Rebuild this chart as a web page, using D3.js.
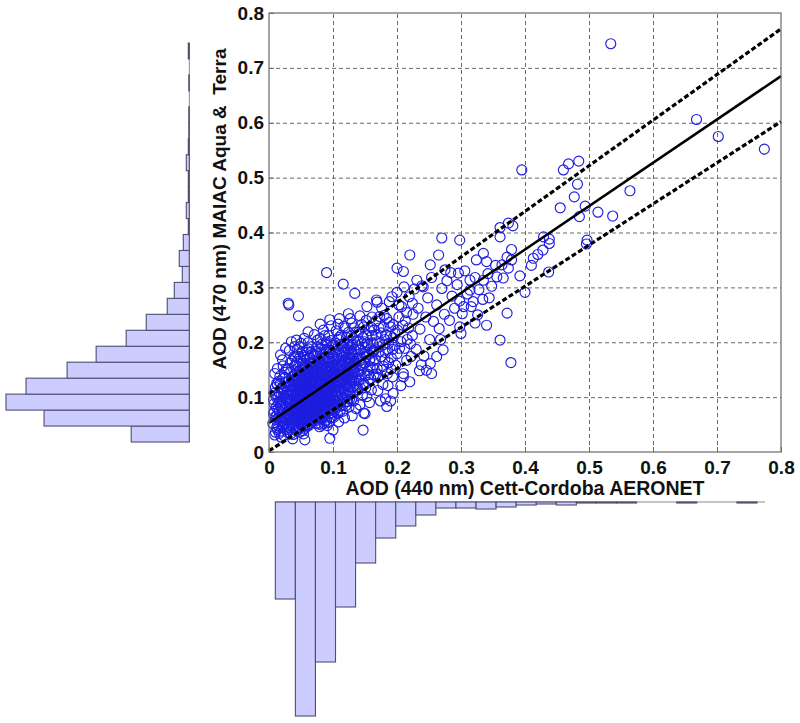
<!DOCTYPE html>
<html>
<head>
<meta charset="utf-8">
<script src="https://cdn.jsdelivr.net/npm/d3@7"></script>
<style>
  body { margin: 0; background: #fff; }
  text { font-family: "Liberation Sans", Arial, sans-serif; font-weight: bold; }
</style>
</head>
<body>
<div id="chart"></div>
<script>
// tick values shared by both axes
const tickValues = [0, 0.1, 0.2, 0.3, 0.4, 0.5, 0.6, 0.7, 0.8];
const tickLabels = ["0", "0.1", "0.2", "0.3", "0.4", "0.5", "0.6", "0.7", "0.8"];

// [AERONET AOD 440, MAIAC AOD 470] pairs
const points = [
  // x 0.005 - 0.04
  [0.012,0.045],[0.015,0.062],[0.018,0.038],[0.021,0.071],[0.024,0.052],[0.027,0.088],[0.030,0.041],[0.033,0.066],[0.036,0.095],[0.039,0.058],
  [0.011,0.082],[0.014,0.101],[0.017,0.057],[0.020,0.094],[0.023,0.030],[0.026,0.063],[0.029,0.112],[0.032,0.079],[0.035,0.048],[0.038,0.121],
  [0.013,0.123],[0.016,0.074],[0.019,0.115],[0.022,0.049],[0.025,0.136],[0.028,0.072],[0.031,0.105],[0.034,0.033],[0.037,0.083],[0.040,0.140],
  [0.010,0.036],[0.019,0.027],[0.024,0.098],[0.027,0.150],[0.030,0.128],[0.033,0.162],[0.036,0.058],[0.039,0.174],[0.015,0.090],[0.021,0.118],
  [0.026,0.041],[0.031,0.087],[0.035,0.112],[0.038,0.069],[0.012,0.066],[0.017,0.138],[0.022,0.157],[0.028,0.059],[0.034,0.146],[0.037,0.024],
  [0.032,0.185],[0.018,0.084],[0.023,0.076],[0.029,0.093],[0.040,0.100],
  [0.006,0.052],[0.008,0.088],[0.010,0.118],[0.013,0.041],[0.016,0.107],[0.019,0.063],[0.022,0.134],[0.025,0.083],[0.028,0.047],[0.031,0.121],
  [0.034,0.092],[0.037,0.137],[0.007,0.095],[0.011,0.059],[0.014,0.078],[0.018,0.125],[0.021,0.046],[0.024,0.114],[0.027,0.068],[0.030,0.152],
  [0.033,0.054],[0.036,0.078],[0.039,0.087],[0.009,0.143],[0.012,0.099],[0.016,0.034],[0.020,0.081],[0.023,0.103],[0.026,0.127],[0.029,0.036],
  [0.032,0.097],[0.035,0.131],[0.038,0.045],[0.008,0.074],[0.013,0.152],[0.017,0.092],[0.021,0.168],[0.025,0.058],[0.028,0.109],[0.032,0.044],
  [0.036,0.166],[0.039,0.108],[0.014,0.048],[0.019,0.106],[0.023,0.062],[0.027,0.119],[0.031,0.071],[0.034,0.119],[0.038,0.032],[0.011,0.104],
  [0.015,0.129],[0.020,0.055],[0.024,0.145],[0.029,0.082],[0.033,0.107],[0.037,0.061],[0.040,0.076],[0.018,0.177],[0.026,0.189],[0.035,0.201],
  // x 0.04 - 0.07
  [0.041,0.052],[0.044,0.078],[0.047,0.061],[0.050,0.095],[0.053,0.047],[0.056,0.083],[0.059,0.110],[0.062,0.069],[0.065,0.124],[0.068,0.088],
  [0.042,0.104],[0.045,0.128],[0.048,0.085],[0.051,0.071],[0.054,0.117],[0.057,0.054],[0.060,0.092],[0.063,0.137],[0.066,0.076],[0.069,0.101],
  [0.043,0.067],[0.046,0.044],[0.049,0.113],[0.052,0.134],[0.055,0.072],[0.058,0.099],[0.061,0.050],[0.064,0.087],[0.067,0.145],[0.070,0.064],
  [0.041,0.089],[0.044,0.145],[0.047,0.098],[0.050,0.058],[0.053,0.088],[0.056,0.126],[0.059,0.077],[0.062,0.107],[0.065,0.059],[0.068,0.118],
  [0.042,0.158],[0.045,0.072],[0.048,0.036],[0.051,0.106],[0.054,0.149],[0.057,0.066],[0.060,0.129],[0.063,0.083],[0.066,0.162],[0.069,0.081],
  [0.043,0.120],[0.046,0.091],[0.049,0.150],[0.052,0.082],[0.055,0.103],[0.058,0.140],[0.061,0.115],[0.064,0.071],[0.067,0.097],[0.070,0.132],
  [0.041,0.173],[0.044,0.059],[0.047,0.122],[0.050,0.168],[0.053,0.064],[0.056,0.097],[0.059,0.157],[0.062,0.048],[0.065,0.109],[0.068,0.178],
  [0.042,0.075],[0.045,0.110],[0.048,0.069],[0.051,0.121],[0.054,0.033],[0.057,0.112],[0.060,0.068],[0.063,0.121],[0.066,0.138],[0.069,0.056],
  [0.043,0.038],[0.046,0.137],[0.049,0.079],[0.052,0.096],[0.055,0.176],[0.058,0.079],[0.061,0.094],[0.064,0.150],[0.067,0.067],[0.070,0.104],
  [0.041,0.128],[0.044,0.187],[0.047,0.053],[0.050,0.112],[0.053,0.128],[0.056,0.043],[0.059,0.135],[0.062,0.188],[0.065,0.085],[0.068,0.148],
  [0.042,0.062],[0.045,0.097],[0.048,0.192],[0.051,0.087],[0.054,0.091],[0.057,0.161],[0.060,0.105],[0.063,0.061],[0.066,0.117],[0.069,0.092],
  [0.043,0.095],[0.046,0.066],[0.049,0.102],[0.052,0.057],[0.055,0.126],[0.058,0.062],[0.061,0.199],[0.064,0.112],[0.067,0.128],[0.070,0.165],
  [0.040,0.118],[0.043,0.084],[0.046,0.109],[0.049,0.063],[0.052,0.115],[0.055,0.086],[0.058,0.121],[0.061,0.079],[0.064,0.097],[0.067,0.111],[0.070,0.086],
  [0.041,0.141],[0.044,0.101],[0.047,0.083],[0.050,0.131],[0.053,0.099],[0.056,0.069],[0.059,0.092],[0.062,0.128],[0.065,0.141],[0.068,0.073],[0.071,0.119],
  [0.042,0.091],[0.045,0.058],[0.048,0.117],[0.051,0.053],[0.054,0.076],[0.057,0.133],[0.060,0.083],[0.063,0.104],[0.066,0.089],[0.069,0.138],[0.071,0.097],
  [0.040,0.067],[0.043,0.136],[0.046,0.079],[0.049,0.124],[0.052,0.071],[0.055,0.138],[0.058,0.088],[0.061,0.142],[0.064,0.061],[0.067,0.154],[0.070,0.112],
  [0.041,0.112],[0.044,0.069],[0.047,0.144],[0.050,0.087],[0.053,0.109],[0.056,0.154],[0.059,0.063],[0.062,0.095],[0.065,0.072],[0.068,0.128],[0.071,0.143],
  [0.042,0.132],[0.045,0.087],[0.048,0.054],[0.051,0.143],[0.054,0.061],[0.057,0.101],[0.060,0.149],[0.063,0.072],[0.066,0.102],[0.069,0.066],[0.070,0.153],
  [0.043,0.057],[0.046,0.118],[0.049,0.094],[0.052,0.162],[0.055,0.057],[0.058,0.113],[0.061,0.065],[0.064,0.128],[0.067,0.082],[0.069,0.112],[0.065,0.181],
  [0.040,0.157],[0.044,0.165],[0.048,0.172],[0.052,0.183],[0.056,0.173],[0.060,0.170],[0.064,0.172],[0.068,0.163],[0.042,0.048],[0.047,0.042],[0.053,0.039],
  [0.058,0.046],[0.063,0.052],[0.067,0.058],[0.045,0.179],[0.050,0.198],[0.055,0.207],[0.059,0.185],[0.063,0.163],[0.067,0.192],[0.071,0.177],
  [0.041,0.101],[0.045,0.123],[0.049,0.072],[0.053,0.152],[0.057,0.081],[0.061,0.131],[0.066,0.121],[0.070,0.075],[0.054,0.101],[0.060,0.117],
  // x 0.07 - 0.10
  [0.073,0.079],[0.076,0.108],[0.079,0.062],[0.082,0.131],[0.085,0.094],[0.088,0.152],[0.091,0.073],[0.094,0.117],[0.097,0.140],[0.100,0.099],
  [0.074,0.125],[0.077,0.088],[0.080,0.146],[0.083,0.069],[0.086,0.119],[0.089,0.097],[0.092,0.163],[0.095,0.084],[0.098,0.121],[0.101,0.174],
  [0.075,0.058],[0.078,0.139],[0.081,0.101],[0.084,0.170],[0.087,0.078],[0.090,0.128],[0.093,0.105],[0.096,0.062],[0.099,0.155],[0.102,0.113],
  [0.073,0.148],[0.076,0.068],[0.079,0.116],[0.082,0.092],[0.085,0.144],[0.088,0.056],[0.091,0.137],[0.094,0.181],[0.097,0.092],[0.100,0.132],
  [0.074,0.094],[0.077,0.163],[0.080,0.083],[0.083,0.112],[0.086,0.187],[0.089,0.116],[0.092,0.087],[0.095,0.129],[0.098,0.071],[0.101,0.146],
  [0.075,0.175],[0.078,0.051],[0.081,0.127],[0.084,0.143],[0.087,0.102],[0.090,0.165],[0.093,0.146],[0.096,0.108],[0.099,0.194],[0.102,0.086],
  [0.073,0.108],[0.076,0.192],[0.079,0.099],[0.082,0.060],[0.085,0.124],[0.088,0.088],[0.091,0.201],[0.094,0.070],[0.097,0.119],[0.100,0.158],
  [0.074,0.067],[0.077,0.125],[0.080,0.207],[0.083,0.156],[0.086,0.052],[0.089,0.139],[0.092,0.115],[0.095,0.170],[0.098,0.137],[0.101,0.063],
  [0.075,0.136],[0.078,0.084],[0.081,0.162],[0.084,0.118],[0.087,0.212],[0.090,0.075],[0.093,0.125],[0.096,0.150],[0.099,0.105],[0.102,0.128],
  [0.079,0.046],[0.085,0.222],[0.091,0.048],[0.097,0.230],[0.088,0.178],
  [0.072,0.092],[0.075,0.117],[0.078,0.074],[0.081,0.114],[0.084,0.084],[0.087,0.134],[0.090,0.108],[0.093,0.091],[0.096,0.127],[0.099,0.117],
  [0.073,0.136],[0.076,0.082],[0.079,0.131],[0.082,0.105],[0.085,0.072],[0.088,0.119],[0.091,0.154],[0.094,0.131],[0.097,0.103],[0.100,0.143],
  [0.074,0.103],[0.077,0.142],[0.080,0.095],[0.083,0.127],[0.086,0.137],[0.089,0.082],[0.092,0.128],[0.095,0.148],[0.098,0.088],[0.101,0.124],
  [0.072,0.121],[0.075,0.087],[0.078,0.122],[0.081,0.076],[0.084,0.131],[0.087,0.113],[0.090,0.141],[0.093,0.078],[0.096,0.136],[0.099,0.081],
  [0.073,0.071],[0.076,0.152],[0.079,0.089],[0.082,0.146],[0.085,0.108],[0.088,0.141],[0.091,0.097],[0.094,0.157],[0.097,0.077],[0.100,0.112],
  [0.074,0.158],[0.077,0.101],[0.080,0.120],[0.083,0.088],[0.086,0.158],[0.089,0.126],[0.092,0.101],[0.095,0.114],[0.098,0.161],[0.101,0.096],
  [0.072,0.165],[0.075,0.145],[0.078,0.167],[0.081,0.181],[0.084,0.158],[0.087,0.173],[0.090,0.185],[0.093,0.172],[0.096,0.183],[0.099,0.171],
  [0.073,0.184],[0.076,0.204],[0.079,0.188],[0.082,0.196],[0.085,0.166],[0.089,0.199],[0.093,0.212],[0.097,0.203],[0.101,0.194],[0.074,0.052],
  [0.078,0.063],[0.082,0.049],[0.086,0.066],[0.090,0.058],[0.094,0.054],[0.098,0.063],[0.102,0.074],[0.071,0.214],[0.080,0.233],[0.095,0.241],
  [0.076,0.129],[0.080,0.110],[0.084,0.097],[0.088,0.103],[0.092,0.141],[0.096,0.096],[0.100,0.085],[0.083,0.139],[0.091,0.119],[0.099,0.135],
  // x 0.10 - 0.13
  [0.104,0.121],[0.107,0.153],[0.110,0.095],[0.113,0.176],[0.116,0.132],[0.119,0.108],[0.122,0.163],[0.125,0.141],[0.128,0.191],[0.131,0.118],
  [0.105,0.168],[0.108,0.087],[0.111,0.139],[0.114,0.115],[0.117,0.198],[0.120,0.145],[0.123,0.092],[0.126,0.172],[0.129,0.130],[0.132,0.207],
  [0.106,0.102],[0.109,0.187],[0.112,0.158],[0.115,0.074],[0.118,0.167],[0.121,0.124],[0.124,0.218],[0.127,0.104],[0.130,0.157],[0.133,0.144],
  [0.104,0.141],[0.107,0.070],[0.110,0.209],[0.113,0.128],[0.116,0.099],[0.119,0.184],[0.122,0.138],[0.125,0.082],[0.128,0.149],[0.131,0.178],
  [0.105,0.198],[0.108,0.128],[0.111,0.112],[0.114,0.150],[0.117,0.229],[0.120,0.084],[0.123,0.197],[0.126,0.119],[0.129,0.235],[0.132,0.093],
  [0.106,0.136],[0.109,0.055],[0.112,0.084],[0.115,0.193],[0.118,0.144],[0.121,0.171],[0.124,0.111],[0.127,0.201],[0.130,0.066],[0.133,0.165],
  [0.110,0.243],[0.118,0.062],[0.124,0.252],[0.129,0.096],[0.133,0.226],
  [0.103,0.131],[0.106,0.118],[0.109,0.146],[0.112,0.127],[0.115,0.158],[0.118,0.121],[0.121,0.153],[0.124,0.132],[0.127,0.163],[0.130,0.141],
  [0.104,0.158],[0.107,0.138],[0.110,0.165],[0.113,0.104],[0.116,0.143],[0.119,0.162],[0.122,0.121],[0.125,0.178],[0.128,0.118],[0.131,0.152],
  [0.105,0.107],[0.108,0.161],[0.111,0.127],[0.114,0.181],[0.117,0.112],[0.120,0.131],[0.123,0.172],[0.126,0.151],[0.129,0.182],[0.132,0.129],
  [0.103,0.093],[0.106,0.176],[0.109,0.117],[0.112,0.196],[0.115,0.134],[0.118,0.097],[0.121,0.188],[0.124,0.146],[0.127,0.131],[0.130,0.196],
  [0.104,0.183],[0.107,0.104],[0.110,0.153],[0.113,0.142],[0.116,0.173],[0.119,0.136],[0.122,0.104],[0.125,0.161],[0.128,0.171],[0.131,0.137],
  [0.105,0.221],[0.109,0.205],[0.113,0.213],[0.117,0.181],[0.121,0.209],[0.125,0.196],[0.129,0.212],[0.133,0.187],[0.106,0.081],[0.111,0.074],
  [0.116,0.086],[0.121,0.092],[0.126,0.097],[0.131,0.108],[0.108,0.233],[0.119,0.226],[0.127,0.243],[0.114,0.166],[0.123,0.141],[0.132,0.171],
  // x 0.13 - 0.165
  [0.135,0.152],[0.138,0.118],[0.141,0.188],[0.144,0.140],[0.147,0.209],[0.150,0.162],[0.153,0.101],[0.156,0.178],[0.159,0.134],[0.162,0.198],
  [0.136,0.195],[0.139,0.171],[0.142,0.086],[0.145,0.232],[0.148,0.125],[0.151,0.190],[0.154,0.148],[0.157,0.221],[0.160,0.113],[0.163,0.166],
  [0.137,0.131],[0.140,0.218],[0.143,0.159],[0.146,0.104],[0.149,0.178],[0.152,0.240],[0.155,0.127],[0.158,0.155],[0.161,0.246],[0.164,0.141],
  [0.136,0.079],[0.142,0.248],[0.148,0.071],[0.153,0.265],[0.157,0.090],[0.161,0.183],[0.164,0.222],[0.139,0.143],[0.145,0.197],[0.150,0.139],
  [0.134,0.162],[0.137,0.178],[0.140,0.147],[0.143,0.186],[0.146,0.159],[0.149,0.201],[0.152,0.174],[0.155,0.194],[0.158,0.169],[0.161,0.212],
  [0.135,0.121],[0.138,0.203],[0.141,0.132],[0.144,0.171],[0.147,0.121],[0.150,0.182],[0.153,0.214],[0.156,0.141],[0.159,0.188],[0.162,0.154],
  [0.136,0.218],[0.139,0.113],[0.142,0.166],[0.145,0.151],[0.148,0.228],[0.151,0.117],[0.154,0.199],[0.157,0.167],[0.160,0.227],[0.163,0.183],
  // x 0.165 - 0.26
  [0.166,0.188],[0.169,0.152],[0.172,0.226],[0.175,0.174],[0.178,0.123],[0.181,0.205],[0.184,0.243],[0.187,0.163],[0.190,0.211],[0.193,0.137],
  [0.167,0.239],[0.170,0.112],[0.173,0.198],[0.176,0.262],[0.179,0.156],[0.182,0.097],[0.185,0.187],[0.188,0.274],[0.191,0.172],[0.194,0.232],
  [0.168,0.142],[0.174,0.093],[0.180,0.249],[0.186,0.121],[0.192,0.283],[0.196,0.194],
  [0.166,0.169],[0.169,0.201],[0.172,0.183],[0.175,0.217],[0.178,0.195],[0.181,0.168],[0.184,0.213],[0.187,0.198],[0.190,0.228],[0.193,0.187],
  [0.167,0.214],[0.170,0.136],[0.173,0.247],[0.176,0.149],[0.179,0.228],[0.182,0.181],[0.185,0.143],[0.188,0.236],[0.191,0.151],[0.194,0.208],
  [0.197,0.216],[0.200,0.179],[0.203,0.268],[0.206,0.201],[0.209,0.231],[0.212,0.189],[0.215,0.254],[0.218,0.226],[0.221,0.197],[0.224,0.271],
  [0.198,0.158],[0.201,0.222],[0.204,0.189],[0.207,0.265],[0.210,0.143],[0.213,0.239],[0.216,0.205],[0.219,0.283],[0.222,0.174],[0.225,0.251],
  [0.200,0.291],[0.206,0.121],[0.211,0.301],[0.215,0.167],[0.220,0.128],[0.224,0.212],[0.203,0.246],[0.227,0.297],
  [0.230,0.187],[0.233,0.262],[0.236,0.224],[0.239,0.303],[0.242,0.175],[0.245,0.246],[0.248,0.281],[0.251,0.205],[0.254,0.318],[0.257,0.238],
  [0.235,0.148],[0.252,0.161],
  // x 0.26 - 0.36
  [0.262,0.268],[0.266,0.225],[0.270,0.298],[0.274,0.251],[0.278,0.312],[0.282,0.240],[0.286,0.284],[0.290,0.262],[0.294,0.305],[0.298,0.275],
  [0.302,0.252],[0.306,0.330],[0.310,0.288],[0.316,0.265],[0.322,0.318],[0.328,0.296],[0.334,0.278],[0.342,0.325],[0.348,0.302],[0.354,0.340],
  [0.268,0.205],[0.284,0.327],[0.300,0.216],[0.326,0.250],[0.344,0.281],
  // scattered points and outliers
  [0.534,0.744],[0.668,0.606],[0.702,0.575],[0.774,0.552],[0.395,0.514],[0.460,0.514],[0.468,0.525],[0.484,0.530],[0.482,0.488],[0.477,0.465],
  [0.455,0.445],[0.494,0.448],[0.485,0.429],[0.514,0.437],[0.537,0.430],[0.564,0.476],[0.374,0.417],[0.381,0.412],[0.361,0.409],[0.429,0.392],
  [0.438,0.388],[0.497,0.386],[0.379,0.369],[0.392,0.321],[0.400,0.291],[0.437,0.328],[0.420,0.360],[0.413,0.353],[0.410,0.340],[0.428,0.368],
  [0.438,0.380],[0.496,0.379],[0.372,0.253],[0.361,0.204],[0.378,0.163],[0.366,0.317],[0.372,0.355],[0.270,0.390],[0.361,0.392],[0.090,0.327],
  [0.030,0.271],[0.031,0.268],[0.046,0.248],[0.116,0.306],[0.134,0.289],[0.168,0.277],[0.169,0.273],[0.200,0.335],[0.210,0.329],[0.220,0.359],
  [0.265,0.359],[0.252,0.341],[0.231,0.313],[0.241,0.301],[0.275,0.332],[0.298,0.386],[0.296,0.326],[0.314,0.313],[0.314,0.295],[0.319,0.274],
  [0.335,0.313],[0.324,0.350],[0.340,0.347],[0.335,0.362],[0.356,0.319],[0.364,0.341],[0.374,0.335],[0.379,0.350],[0.340,0.231],[0.322,0.235],
  [0.298,0.228],[0.304,0.265],[0.262,0.174],[0.272,0.186],[0.254,0.143],[0.246,0.149],[0.238,0.159],[0.210,0.137],[0.194,0.107],[0.184,0.083],
  [0.190,0.093],[0.147,0.040],[0.150,0.070],[0.095,0.025],[0.100,0.040],[0.056,0.022],[0.009,0.031],[0.009,0.064],[0.007,0.070],[0.012,0.125],
  [0.008,0.107],[0.040,0.192],[0.043,0.204],[0.061,0.219]
];

// regression line and its envelope: MAIAC value at AERONET = 0 and 0.8
const lineNames = ["fit", "upper", "lower"];
const lineStart = [0.053, 0.106, 0.002];
const lineEnd = [0.685, 0.771, 0.602];

// marginal histograms (relative frequency)
const maiacHist = [58,145,183,163,122,93,63,43,22,15,7,10,6,1,3,1,1,3,1,0.5,0.5,0,0.5,0,1];
const aeronetHist = [97,214,160,105,61,36,24,13,6,6,7,5,3,2,3,1,1,1,0,0,1,0,0,1];

const width = 800, height = 723;
const margin = {top: 13, right: 19, bottom: 271, left: 269};

const x = d3.scaleLinear().domain([0, 0.8]).range([margin.left, width - margin.right]);
const y = d3.scaleLinear().domain([0, 0.8]).range([height - margin.bottom, margin.top]);

const svg = d3.select("#chart").append("svg")
  .attr("width", width)
  .attr("height", height);

const plotH = y(0) - y(0.8);
const plotW = x(0.8) - x(0);

// dashed grid
svg.append("g")
  .attr("transform", `translate(0,${y(0)})`)
  .call(d3.axisBottom(x).tickValues(tickValues.slice(1, -1)).tickSize(-plotH).tickFormat(""))
  .call(g => g.select(".domain").remove())
  .call(g => g.selectAll("line").attr("stroke", "#8a8a8a").attr("stroke-dasharray", "4,3"));
svg.append("g")
  .attr("transform", `translate(${x(0)},0)`)
  .call(d3.axisLeft(y).tickValues(tickValues.slice(1, -1)).tickSize(-plotW).tickFormat(""))
  .call(g => g.select(".domain").remove())
  .call(g => g.selectAll("line").attr("stroke", "#8a8a8a").attr("stroke-dasharray", "4,3"));

// scatter
svg.append("g")
  .selectAll("circle")
  .data(points)
  .join("circle")
    .attr("cx", d => x(d[0]))
    .attr("cy", d => y(d[1]))
    .attr("r", 5)
    .attr("fill", "none")
    .attr("stroke", "#1e1ee0")
    .attr("stroke-width", 1.15);

// regression + envelope lines, drawn after the circles so they sit on top
const line = d3.line().x(d => x(d[0])).y(d => y(d[1]));
lineNames.forEach((name, i) => {
  svg.append("path")
    .attr("d", line([[0, lineStart[i]], [0.8, lineEnd[i]]]))
    .attr("fill", "none")
    .attr("stroke", "#000")
    .attr("stroke-width", name === "fit" ? 2.5 : 3.2)
    .attr("stroke-dasharray", name === "fit" ? null : "5,2.5");
});

// frame
svg.append("rect")
  .attr("x", x(0)).attr("y", y(0.8))
  .attr("width", plotW).attr("height", plotH)
  .attr("fill", "none").attr("stroke", "#6a6a6a").attr("stroke-width", 1.2);

// axes with inward ticks
const xAxis = g => g
  .attr("transform", `translate(0,${y(0)})`)
  .call(d3.axisBottom(x).tickValues(tickValues).tickFormat((d, i) => tickLabels[i])
    .tickSizeInner(-5).tickSizeOuter(0).tickPadding(9))
  .call(g => g.select(".domain").remove());
const yAxis = g => g
  .attr("transform", `translate(${x(0)},0)`)
  .call(d3.axisLeft(y).tickValues(tickValues).tickFormat((d, i) => tickLabels[i])
    .tickSizeInner(-5).tickSizeOuter(0).tickPadding(5))
  .call(g => g.select(".domain").remove());

svg.append("g").call(xAxis);
svg.append("g").call(yAxis);
svg.selectAll(".tick text")
  .attr("font-family", "Liberation Sans, Arial, sans-serif")
  .attr("font-weight", "bold")
  .attr("font-size", 19)
  .attr("fill", "#111");
svg.selectAll(".tick line").attr("stroke", "#6a6a6a");

// axis titles
svg.append("text")
  .attr("x", (x(0) + x(0.8)) / 2)
  .attr("y", 495)
  .attr("text-anchor", "middle")
  .attr("font-size", 19.5)
  .attr("fill", "#111")
  .text("AOD (440 nm) Cett-Cordoba AERONET");

svg.append("text")
  .attr("transform", "translate(226,209) rotate(-90)")
  .attr("text-anchor", "middle")
  .attr("font-size", 19)
  .attr("fill", "#111")
  .style("white-space", "pre")
  .text("AOD (470 nm) MAIAC Aqua &  Terra");

// left marginal histogram (MAIAC), bars grow leftwards
const hy = d3.scaleLinear().domain([0, maiacHist.length]).range([442, 43]);
const hw = d3.scaleLinear().domain([0, 183]).range([189.3, 6]);
const leftHist = svg.append("g");
leftHist.append("line")
  .attr("x1", hw(0)).attr("x2", hw(0))
  .attr("y1", hy(0)).attr("y2", hy(maiacHist.length))
  .attr("stroke", "#8a8a8a");
leftHist.selectAll("rect")
  .data(maiacHist)
  .join("rect")
    .attr("x", d => hw(d))
    .attr("y", (d, i) => hy(i + 1))
    .attr("width", d => hw(0) - hw(d))
    .attr("height", (d, i) => hy(i) - hy(i + 1))
    .attr("fill", "#ccccff")
    .attr("stroke", "#4e4e70")
    .attr("stroke-width", 1.1);

// bottom marginal histogram (AERONET), bars hang downwards
const hx = d3.scaleLinear().domain([0, aeronetHist.length]).range([275.3, 757]);
const hh = d3.scaleLinear().domain([0, 214]).range([502, 716]);
const bottomHist = svg.append("g");
bottomHist.append("line")
  .attr("x1", hx(0)).attr("x2", 765)
  .attr("y1", hh(0)).attr("y2", hh(0))
  .attr("stroke", "#8a8a8a");
bottomHist.selectAll("rect")
  .data(aeronetHist)
  .join("rect")
    .attr("x", (d, i) => hx(i))
    .attr("y", hh(0))
    .attr("width", (d, i) => hx(i + 1) - hx(i))
    .attr("height", d => hh(d) - hh(0))
    .attr("fill", "#ccccff")
    .attr("stroke", "#4e4e70")
    .attr("stroke-width", 1.1);
</script>
</body>
</html>
